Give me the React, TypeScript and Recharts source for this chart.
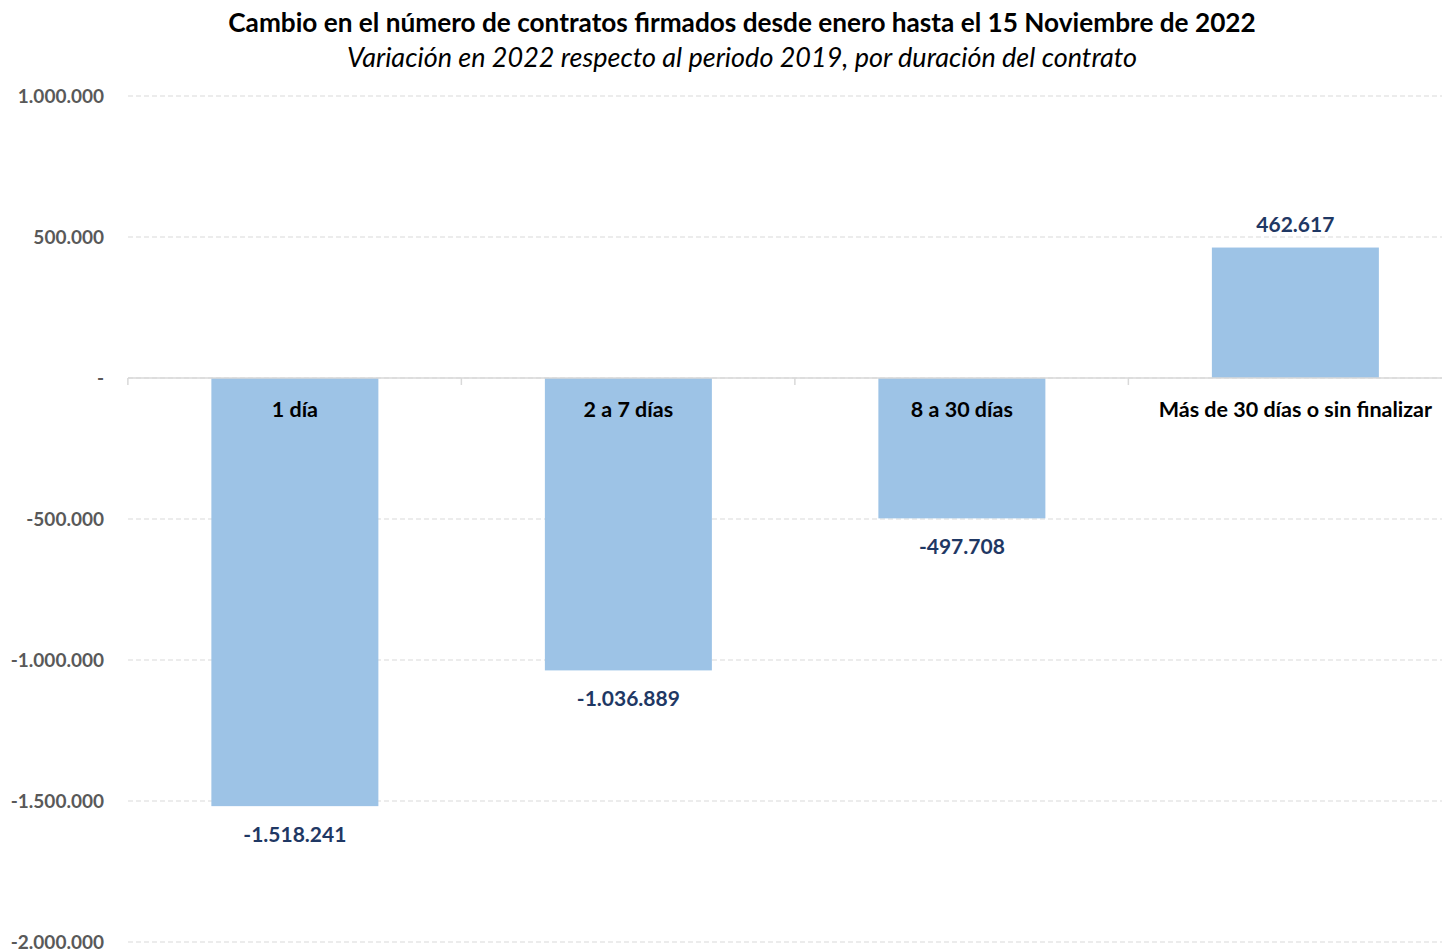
import React from 'react';
import { BarChart, Bar, XAxis, YAxis, CartesianGrid, ReferenceLine } from 'recharts';

const categories = ['1 día', '2 a 7 días', '8 a 30 días', 'Más de 30 días o sin finalizar'];
const values = [-1518241, -1036889, -497708, 462617];
const yTicks = [1000000, 500000, 0, -500000, -1000000, -1500000, -2000000];

const title = 'Cambio en el número de contratos firmados desde enero hasta el 15 Noviembre de 2022';
const subtitle = 'Variación en 2022 respecto al periodo 2019, por duración del contrato';

const data = categories.map((name, i) => ({ name, value: values[i] }));

const FONT = 'Lato, "Noto Sans", sans-serif';

const fmt = (v: number) => {
  if (v === 0) return '-';
  const s = String(Math.abs(v)).replace(/\B(?=(\d{3})+(?!\d))/g, '.');
  return (v < 0 ? '-' : '') + s;
};

const BarShape = (props: any) => {
  const { x, y, width, height, payload, index } = props;
  const top = Math.min(y, y + height);
  const bottom = Math.max(y, y + height);
  const v = payload.value;
  const zero = v >= 0 ? bottom : top;
  const cx = x + width / 2;
  const bandLeft = x - width / 2;
  return (
    <g>
      <rect x={x} y={top} width={width} height={bottom - top} fill="#9DC3E6" />
      <line x1={bandLeft} x2={bandLeft} y1={zero} y2={zero + 7} stroke="#D9D9D9" strokeWidth={1.5} />
      <text
        x={cx}
        y={zero + 31}
        textAnchor="middle"
        dominantBaseline="central"
        fontFamily={FONT}
        fontWeight={700}
        fontSize={21.5}
        fill="#000000"
      >
        {categories[index]}
      </text>
      <text
        x={cx}
        y={v >= 0 ? top - 24 : bottom + 27}
        textAnchor="middle"
        dominantBaseline="central"
        fontFamily={FONT}
        fontWeight={700}
        fontSize={21}
        fill="#1F3864"
      >
        {fmt(v)}
      </text>
    </g>
  );
};

export default function App() {
  return (
    <div
      style={{
        position: 'absolute',
        left: 0,
        top: 0,
        width: 1442,
        height: 951,
        overflow: 'hidden',
        background: '#ffffff',
        fontFamily: FONT,
      }}
    >
      <div
        style={{
          position: 'absolute',
          left: 742,
          top: 7,
          transform: 'translateX(-50%)',
          whiteSpace: 'nowrap',
          fontWeight: 700,
          fontSize: 26.2,
          lineHeight: '30px',
          color: '#000',
        }}
      >
        {title}
      </div>
      <div
        style={{
          position: 'absolute',
          left: 742,
          top: 42,
          transform: 'translateX(-50%)',
          whiteSpace: 'nowrap',
          fontStyle: 'italic',
          fontSize: 27,
          lineHeight: '30px',
          color: '#000',
        }}
      >
        {subtitle}
      </div>
      <div style={{ position: 'absolute', left: 0, top: 0 }}>
        <BarChart
          width={1462}
          height={951}
          data={data}
          margin={{ top: 96, right: 0, bottom: 9, left: 0 }}
          barCategoryGap="25%"
        >
          <CartesianGrid vertical={false} stroke="#D9D9D9" strokeDasharray="5 3" />
          <XAxis dataKey="name" hide />
          <YAxis
            width={128}
            domain={[-2000000, 1000000]}
            ticks={yTicks}
            tickFormatter={fmt}
            axisLine={false}
            tickLine={false}
            tickSize={0}
            tickMargin={24}
            tick={{ fill: '#595959', fontSize: 19, fontWeight: 700, fontFamily: FONT }}
            interval={0}
          />
          <Bar dataKey="value" shape={<BarShape />} isAnimationActive={false} />
          <ReferenceLine y={0} stroke="#D9D9D9" strokeWidth={1.5} />
        </BarChart>
      </div>
    </div>
  );
}
